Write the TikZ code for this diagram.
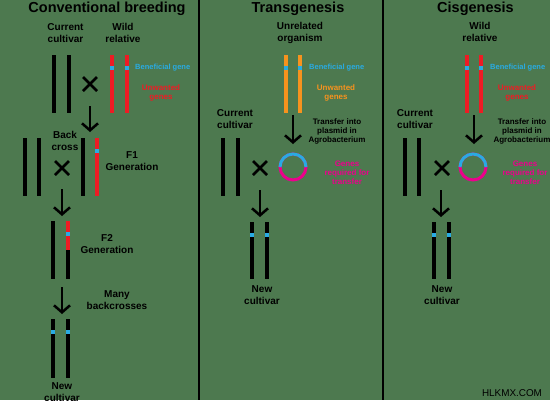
\documentclass[tikz,border=0pt]{standalone}
\usepackage{fontspec}
\setmainfont{Liberation Sans}
\usetikzlibrary{arrows.meta}
\definecolor{bgc}{RGB}{77,121,79}
\definecolor{gblue}{RGB}{41,171,226}
\definecolor{gred}{RGB}{237,28,36}
\definecolor{gorange}{RGB}{247,147,30}
\definecolor{gmag}{RGB}{236,0,140}
\begin{document}
\begin{tikzpicture}[x=1pt,y=-1pt,
  bar/.style={line width=3.2pt},
  xsign/.style={line width=2.8pt},
  downarrow/.style={line width=2.5pt,-{Straight Barb[length=7pt,width=16pt]}},
  divider/.style={line width=2pt},
  ttl/.style={font=\fontsize{14.5}{17}\selectfont\bfseries, inner sep=0},
  lbl/.style={font=\fontsize{10}{12}\selectfont\bfseries, align=center, inner sep=0},
  sml/.style={font=\fontsize{8}{9}\selectfont\bfseries, align=center, inner sep=0},
  tiny/.style={font=\fontsize{7.5}{9}\selectfont\bfseries, inner sep=0, text=gblue},
  gene/.style={fill=gblue},
  ring/.style={line width=3pt},
]
\fill[bgc] (0,0) rectangle (550,400);
\useasboundingbox (0,0) rectangle (550,400);

% dividers
\coordinate (d1t) at (199,0); \coordinate (d1b) at (199,400);
\coordinate (d2t) at (383,0); \coordinate (d2b) at (383,400);
\draw[divider] (d1t) -- (d1b);
\draw[divider] (d2t) -- (d2b);

% ================= Panel 1: Conventional breeding =================
\node[ttl] (t1) at (107,9) {Conventional breeding};
\node[lbl] (cc1) at (65.5,33) {Current\\cultivar};
\node[lbl] (wr1) at (123,33) {Wild\\relative};
\draw[bar] (54,55) -- (54,113);
\draw[bar] (69,55) -- (69,113);
\draw[xsign] (83,77) -- (97,91) (83,91) -- (97,77);
\node (x1) at (90,84) {};
\draw[bar,gred] (112,55) -- (112,113);
\draw[bar,gred] (127,55) -- (127,113);
\fill[gene] (110.4,66) rectangle (113.6,70);
\fill[gene] (125.4,66) rectangle (128.6,70);
\node[tiny,anchor=west] (bg1) at (135,67.5) {Beneficial gene};
\node[sml,text=gred] (ug1) at (161,93) {Unwanted\\genes};
\coordinate (a1s) at (90,106); \coordinate (a1e) at (90,132);
\draw[downarrow] (a1s) -- (a1e);

\node[lbl] (bc1) at (65,141) {Back\\cross};
\draw[bar] (25,138) -- (25,196);
\draw[bar] (39,138) -- (39,196);
\draw[xsign] (55,161) -- (69,175) (55,175) -- (69,161);
\node (x2) at (62,168) {};
\draw[bar] (83,138) -- (83,196);
\draw[bar,gred] (97,138) -- (97,196);
\fill[gene] (95.4,149) rectangle (98.6,153);
\node[lbl] (f1) at (132,161) {F1\\Generation};
\coordinate (a2s) at (62,189); \coordinate (a2e) at (62,216);
\draw[downarrow] (a2s) -- (a2e);

\draw[bar] (53,221) -- (53,279);
\draw[bar,gred] (68,221) -- (68,250);
\draw[bar] (68,250) -- (68,279);
\fill[gene] (66.4,232) rectangle (69.6,236);
\node[lbl] (f2) at (107,244) {F2\\Generation};
\coordinate (a3s) at (62,287); \coordinate (a3e) at (62,314);
\draw[downarrow] (a3s) -- (a3e);
\node[lbl] (mb) at (117,300) {Many\\backcrosses};

\draw[bar] (53,319) -- (53,378);
\draw[bar] (68,319) -- (68,378);
\fill[gene] (51.4,330) rectangle (54.6,334);
\fill[gene] (66.4,330) rectangle (69.6,334);
\node[lbl] (nc1) at (62,392) {New\\cultivar};

% ================= Panel 2: Transgenesis =================
\node[ttl] (t2) at (298,9) {Transgenesis};
\node[lbl] (uo) at (300,33) {Unrelated\\organism};
\draw[bar,gorange] (286,55) -- (286,113);
\draw[bar,gorange] (300,55) -- (300,113);
\fill[gene] (284.4,66) rectangle (287.6,70);
\fill[gene] (298.4,66) rectangle (301.6,70);
\node[tiny,anchor=west] (bg2) at (309,67.5) {Beneficial gene};
\node[sml,text=gorange] (ug2) at (336,93) {Unwanted\\genes};
\node[lbl] (cc2) at (235,119) {Current\\cultivar};
\coordinate (b1s) at (293,115); \coordinate (b1e) at (293,144);
\draw[downarrow] (b1s) -- (b1e);
\node[sml] (tr2) at (337,131) {Transfer into\\plasmid in\\Agrobacterium};
\draw[bar] (223,138) -- (223,196);
\draw[bar] (238,138) -- (238,196);
\draw[xsign] (253,161) -- (267,175) (253,175) -- (267,161);
\node (x3) at (260,168) {};
\coordinate (p2) at (293,167);
\draw[ring,gmag] (p2) circle[radius=13];
\draw[ring,gblue] (p2) ++(-13,0) arc[start angle=180,end angle=360,radius=13];
\node[sml,text=gmag] (gr2) at (347,173) {Genes\\required for\\transfer};
\coordinate (b2s) at (260,190); \coordinate (b2e) at (260,217);
\draw[downarrow] (b2s) -- (b2e);
\draw[bar] (252,222) -- (252,279);
\draw[bar] (267,222) -- (267,279);
\fill[gene] (250.4,233) rectangle (253.6,237);
\fill[gene] (265.4,233) rectangle (268.6,237);
\node[lbl] (nc2) at (262,295) {New\\cultivar};

% ================= Panel 3: Cisgenesis =================
\node[ttl] (t3) at (475.5,9) {Cisgenesis};
\node[lbl] (wr3) at (480,32) {Wild\\relative};
\draw[bar,gred] (467,55) -- (467,113);
\draw[bar,gred] (481,55) -- (481,113);
\fill[gene] (465.4,66) rectangle (468.6,70);
\fill[gene] (479.4,66) rectangle (482.6,70);
\node[tiny,anchor=west] (bg3) at (490,67.5) {Beneficial gene};
\node[sml,text=gred] (ug3) at (517,93) {Unwanted\\genes};
\node[lbl] (cc3) at (415,119) {Current\\cultivar};
\coordinate (c1s) at (474,115); \coordinate (c1e) at (474,144);
\draw[downarrow] (c1s) -- (c1e);
\node[sml] (tr3) at (522,131) {Transfer into\\plasmid in\\Agrobacterium};
\draw[bar] (405,138) -- (405,196);
\draw[bar] (419,138) -- (419,196);
\draw[xsign] (435,161) -- (449,175) (435,175) -- (449,161);
\node (x4) at (442,168) {};
\coordinate (p3) at (473,167);
\draw[ring,gmag] (p3) circle[radius=13];
\draw[ring,gblue] (p3) ++(-13,0) arc[start angle=180,end angle=360,radius=13];
\node[sml,text=gmag] (gr3) at (525,173) {Genes\\required for\\transfer};
\coordinate (c2s) at (441,190); \coordinate (c2e) at (441,217);
\draw[downarrow] (c2s) -- (c2e);
\draw[bar] (434,222) -- (434,279);
\draw[bar] (449,222) -- (449,279);
\fill[gene] (432.4,233) rectangle (435.6,237);
\fill[gene] (447.4,233) rectangle (450.6,237);
\node[lbl] (nc3) at (442,295) {New\\cultivar};

\node[font=\fontsize{9.9}{12}\selectfont, inner sep=0] (wm) at (512,393) {HLKMX.COM};
\end{tikzpicture}
\end{document}
